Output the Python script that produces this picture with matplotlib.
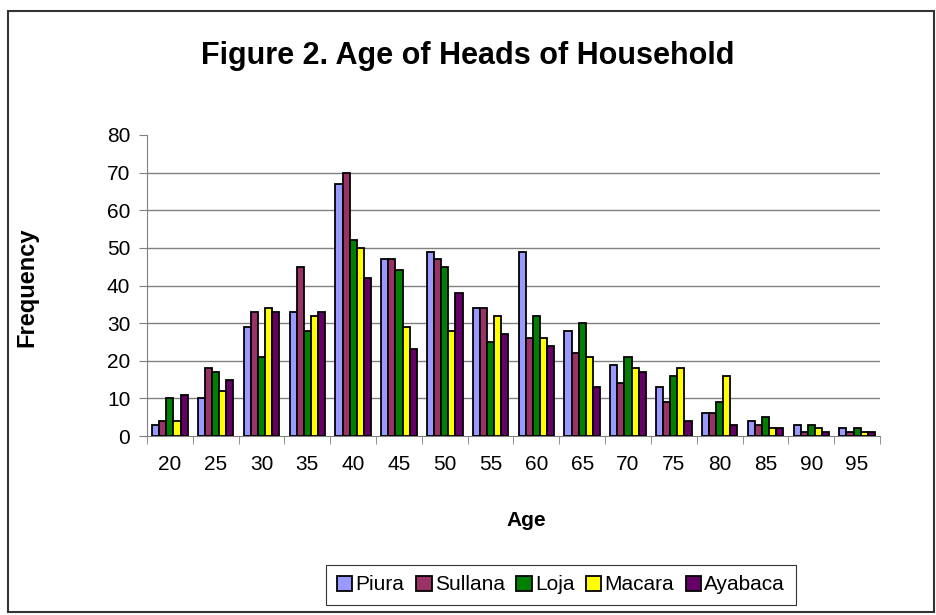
import numpy as np
import matplotlib.pyplot as plt
from matplotlib.patches import Rectangle

plt.rcParams['font.family'] = ['Liberation Sans', 'DejaVu Sans']

ages = ['20', '25', '30', '35', '40', '45', '50', '55', '60', '65', '70', '75', '80', '85', '90', '95']
piura = [3, 10, 29, 33, 67, 47, 49, 34, 49, 28, 19, 13, 6, 4, 3, 2]
sullana = [4, 18, 33, 45, 70, 47, 47, 34, 26, 22, 14, 9, 6, 3, 1, 1]
loja = [10, 17, 21, 28, 52, 44, 45, 25, 32, 30, 21, 16, 9, 5, 3, 2]
macara = [4, 12, 34, 32, 50, 29, 28, 32, 26, 21, 18, 18, 16, 2, 2, 1]
ayabaca = [11, 15, 33, 33, 42, 23, 38, 27, 24, 13, 17, 4, 3, 2, 1, 1]

series = [('Piura', piura, '#9999FF'),
          ('Sullana', sullana, '#993366'),
          ('Loja', loja, '#008000'),
          ('Macara', macara, '#FFFF00'),
          ('Ayabaca', ayabaca, '#660066')]

W, H = 937, 615
fig = plt.figure(figsize=(W / 100, H / 100), dpi=100)
ax = fig.add_axes([147 / W, 1 - 436 / H, 733 / W, 301 / H])

x = np.arange(len(ages))
w = 0.155
for i, (name, vals, col) in enumerate(series):
    ax.bar(x + (i - 2) * w, vals, w, color=col, edgecolor='black', linewidth=1.3,
           label=name, zorder=3)

for y in range(10, 80, 10):
    ax.axhline(y, color='#808080', lw=1, zorder=1)

ax.set_xlim(-0.5, len(ages) - 0.5)
ax.set_ylim(0, 80)
ax.set_yticks(range(0, 81, 10))
ax.set_xticks(x)
ax.set_xticklabels(ages)
ax.set_xticks(np.arange(-0.5, len(ages), 1), minor=True)
ax.tick_params(axis='x', which='major', length=0, pad=14, labelsize=15)
ax.tick_params(axis='x', which='minor', length=6, color='#808080', direction='out')
ax.tick_params(axis='y', length=6, color='#808080', direction='out', pad=6, labelsize=15)

for s in ['top', 'right']:
    ax.spines[s].set_visible(False)
for s in ['left', 'bottom']:
    ax.spines[s].set_color('#808080')

fig.text(468 / W, 1 - 56 / H, 'Figure 2. Age of Heads of Household',
         ha='center', va='center', fontsize=22, fontweight='bold')
fig.text(526 / W, 1 - 521 / H, 'Age', ha='center', va='center',
         fontsize=15, fontweight='bold')
fig.text(27 / W, 1 - 287 / H, 'Frequency', ha='center', va='center',
         rotation=90, fontsize=17, fontweight='bold')

leg = fig.legend(loc='center', bbox_to_anchor=(561 / W, 1 - 585 / H), ncol=5,
                 fontsize=15, frameon=True, fancybox=False, handlelength=0.75,
                 handleheight=0.75, handletextpad=0.15, columnspacing=0.55,
                 borderpad=0.5)
leg.get_frame().set_edgecolor('black')
leg.get_frame().set_linewidth(0.8)
for h in leg.legend_handles:
    h.set_linewidth(1.3)

fig.add_artist(Rectangle((8 / W, 3 / H), 926 / W, 601 / H, transform=fig.transFigure,
                         fill=False, edgecolor='#333333', lw=1.5))

plt.savefig('out.png', dpi=100)
